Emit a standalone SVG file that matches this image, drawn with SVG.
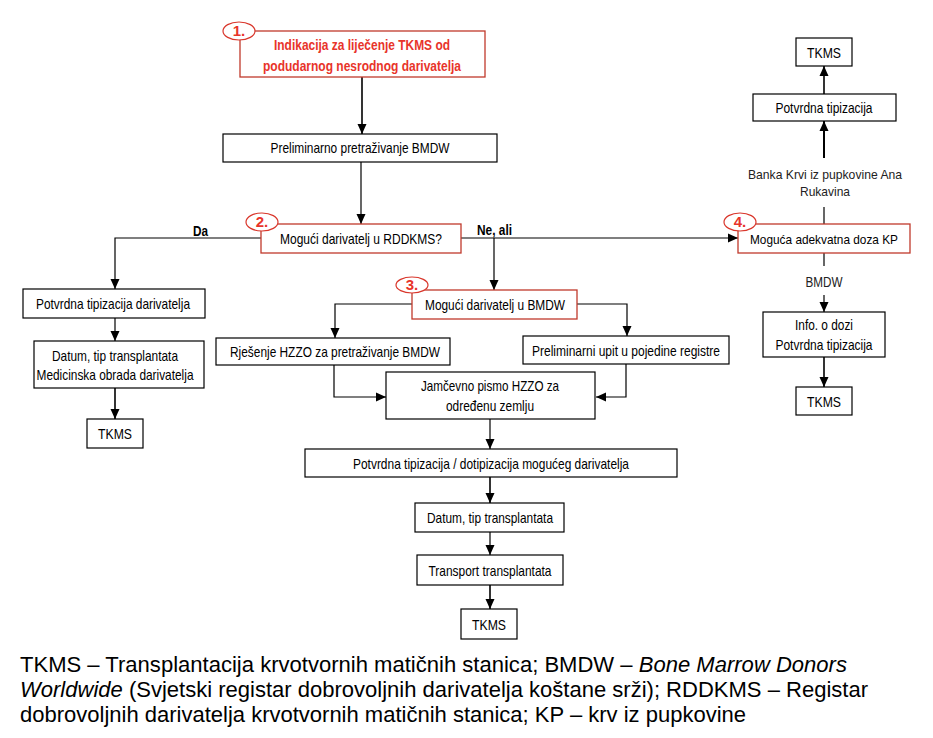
<svg xmlns="http://www.w3.org/2000/svg" width="933" height="738" viewBox="0 0 933 738">
<style>
.b{fill:#fff;stroke:#000;stroke-width:1.2}
.r{fill:#fff;stroke:#c0392b;stroke-width:1.3}
.e{fill:#fff;stroke:#d9362b;stroke-width:1.2}
.t{font-family:"Liberation Sans",Arial,sans-serif;font-size:15px;fill:#000;text-anchor:middle}
.rt{font-family:"Liberation Sans",Arial,sans-serif;font-size:15px;font-weight:bold;fill:#e8342a;text-anchor:middle}
.lb{font-family:"Liberation Sans",Arial,sans-serif;font-size:15px;font-weight:bold;fill:#000}
.g{font-family:"Liberation Sans",Arial,sans-serif;font-size:15px;fill:#222;text-anchor:middle}
.s{font-size:13.5px}
.c{fill:none;stroke:#000;stroke-width:1.2}
.cap{font-family:"Liberation Sans",Arial,sans-serif;font-size:22px;fill:#000}
</style>
<defs>
<marker id="a" viewBox="0 0 10 10" refX="10" refY="5" markerWidth="10" markerHeight="10" markerUnits="userSpaceOnUse" orient="auto">
<path d="M0,0.5 L10,5 L0,9.5 Z" fill="#000"/>
</marker>
</defs>
<rect width="933" height="738" fill="#fff"/>

<g id="connectors">
<path class="c" d="M362,77 V134" marker-end="url(#a)" style="stroke-width:1.6"/>
<path class="c" d="M361,162 V224" marker-end="url(#a)"/>
<path class="c" d="M261,238 H115 V289" marker-end="url(#a)"/>
<path class="c" d="M115,318 V341" marker-end="url(#a)"/>
<path class="c" d="M115,388 V419" marker-end="url(#a)" style="stroke-width:1.6"/>
<path class="c" d="M461,238 H738" marker-end="url(#a)"/>
<path class="c" d="M494,238 V290" marker-end="url(#a)"/>
<path class="c" d="M412,304 H335 V338" marker-end="url(#a)"/>
<path class="c" d="M577,304 H627 V336" marker-end="url(#a)"/>
<path class="c" d="M334,365 V397 H386" marker-end="url(#a)"/>
<path class="c" d="M626,364 V397 H596" marker-end="url(#a)"/>
<path class="c" d="M490,419 V449" marker-end="url(#a)"/>
<path class="c" d="M490,477 V503" marker-end="url(#a)" style="stroke-width:1.6"/>
<path class="c" d="M490,532 V555" marker-end="url(#a)"/>
<path class="c" d="M490,585 V609" marker-end="url(#a)" style="stroke-width:1.6"/>
<path class="c" d="M824,224 V207"/>
<path class="c" d="M824,158 V121" marker-end="url(#a)" style="stroke-width:2"/>
<path class="c" d="M824,94 V66" marker-end="url(#a)" style="stroke-width:1.6"/>
<path class="c" d="M824,253 V266"/>
<path class="c" d="M824,295 V312" marker-end="url(#a)"/>
<path class="c" d="M824,357 V387" marker-end="url(#a)" style="stroke-width:1.6"/>
</g>

<g id="n1">
<rect class="r" x="240" y="31" width="245" height="46"/>
<ellipse class="e" cx="239" cy="31" rx="16" ry="9"/>
<text class="rt" x="239" y="36">1.</text>
<text class="rt" x="362" y="50" textLength="176" lengthAdjust="spacingAndGlyphs">Indikacija za liječenje TKMS od</text>
<text class="rt" x="362" y="71" textLength="198" lengthAdjust="spacingAndGlyphs">podudarnog nesrodnog darivatelja</text>
</g>
<g id="n-prelim">
<rect class="b" x="223" y="134" width="274" height="28"/>
<text class="t" x="360" y="153" textLength="179" lengthAdjust="spacingAndGlyphs">Preliminarno pretraživanje BMDW</text>
</g>
<g id="n2">
<rect class="r" x="261" y="224" width="200" height="29"/>
<ellipse class="e" cx="262" cy="222" rx="16" ry="9"/>
<text class="rt" x="262" y="227">2.</text>
<text class="t" x="361" y="244" textLength="162" lengthAdjust="spacingAndGlyphs">Mogući darivatelj u RDDKMS?</text>
</g>
<text class="lb" x="193" y="236" textLength="15" lengthAdjust="spacingAndGlyphs">Da</text>
<text class="lb" x="477" y="235" textLength="35" lengthAdjust="spacingAndGlyphs">Ne, ali</text>
<g id="n-potv-dar">
<rect class="b" x="23" y="289" width="182" height="29"/>
<text class="t" x="113" y="309" textLength="154" lengthAdjust="spacingAndGlyphs">Potvrdna tipizacija darivatelja</text>
</g>
<g id="n-datum-med">
<rect class="b" x="34" y="341" width="170" height="47"/>
<text class="t" x="115" y="361" textLength="126" lengthAdjust="spacingAndGlyphs">Datum, tip transplantata</text>
<text class="t" x="115" y="380" textLength="157" lengthAdjust="spacingAndGlyphs">Medicinska obrada darivatelja</text>
</g>
<g id="n-tkms-left">
<rect class="b" x="87" y="419" width="56" height="29"/>
<text class="t" x="115" y="439" textLength="34" lengthAdjust="spacingAndGlyphs">TKMS</text>
</g>
<g id="n3">
<rect class="r" x="412" y="290" width="165" height="29"/>
<ellipse class="e" cx="412" cy="285" rx="16" ry="8"/>
<text class="rt" x="412" y="290">3.</text>
<text class="t" x="495" y="310" textLength="140" lengthAdjust="spacingAndGlyphs">Mogući darivatelj u BMDW</text>
</g>
<g id="n-rjesenje">
<rect class="b" x="216" y="338" width="234" height="27"/>
<text class="t" x="335" y="357" textLength="210" lengthAdjust="spacingAndGlyphs">Rješenje HZZO za pretraživanje BMDW</text>
</g>
<g id="n-prelupit">
<rect class="b" x="523" y="336" width="206" height="28"/>
<text class="t" x="626" y="356" textLength="188" lengthAdjust="spacingAndGlyphs">Preliminarni upit u pojedine registre</text>
</g>
<g id="n-jamcevno">
<rect class="b" x="386" y="372" width="209" height="47"/>
<text class="t" x="490" y="391" textLength="138" lengthAdjust="spacingAndGlyphs">Jamčevno pismo HZZO za</text>
<text class="t" x="490" y="411" textLength="88" lengthAdjust="spacingAndGlyphs">određenu zemlju</text>
</g>
<g id="n-potv-dotip">
<rect class="b" x="305" y="449" width="372" height="28"/>
<text class="t" x="491" y="469" textLength="276" lengthAdjust="spacingAndGlyphs">Potvrdna tipizacija / dotipizacija mogućeg darivatelja</text>
</g>
<g id="n-datum">
<rect class="b" x="415" y="503" width="149" height="29"/>
<text class="t" x="490" y="523" textLength="126" lengthAdjust="spacingAndGlyphs">Datum, tip transplantata</text>
</g>
<g id="n-transport">
<rect class="b" x="417" y="555" width="146" height="30"/>
<text class="t" x="490" y="576" textLength="123" lengthAdjust="spacingAndGlyphs">Transport transplantata</text>
</g>
<g id="n-tkms-bottom">
<rect class="b" x="461" y="609" width="56" height="30"/>
<text class="t" x="489" y="630" textLength="34" lengthAdjust="spacingAndGlyphs">TKMS</text>
</g>
<g id="n4">
<rect class="r" x="738" y="224" width="172" height="29"/>
<ellipse class="e" cx="740" cy="222" rx="16" ry="9"/>
<text class="rt" x="740" y="227">4.</text>
<text class="t s" x="824" y="243.5" textLength="148" lengthAdjust="spacingAndGlyphs">Moguća adekvatna doza KP</text>
</g>
<g id="lbl-banka">
<text class="g s" x="825" y="179" textLength="154" lengthAdjust="spacingAndGlyphs">Banka Krvi iz pupkovine Ana</text>
<text class="g s" x="825" y="196" textLength="50" lengthAdjust="spacingAndGlyphs">Rukavina</text>
</g>
<g id="n-potv-right">
<rect class="b" x="753" y="94" width="143" height="27"/>
<text class="t" x="824" y="113" textLength="97" lengthAdjust="spacingAndGlyphs">Potvrdna tipizacija</text>
</g>
<g id="n-tkms-top">
<rect class="b" x="796" y="38" width="56" height="28"/>
<text class="t" x="824" y="58" textLength="34" lengthAdjust="spacingAndGlyphs">TKMS</text>
</g>
<g id="lbl-bmdw">
<text class="g" x="824" y="287" textLength="37" lengthAdjust="spacingAndGlyphs">BMDW</text>
</g>
<g id="n-info">
<rect class="b" x="763" y="312" width="122" height="45"/>
<text class="t" x="824" y="330" textLength="58" lengthAdjust="spacingAndGlyphs">Info. o dozi</text>
<text class="t" x="824" y="350" textLength="97" lengthAdjust="spacingAndGlyphs">Potvrdna tipizacija</text>
</g>
<g id="n-tkms-br">
<rect class="b" x="796" y="387" width="56" height="28"/>
<text class="t" x="824" y="407" textLength="34" lengthAdjust="spacingAndGlyphs">TKMS</text>
</g>

<g id="caption">
<text class="cap" x="20" y="672" textLength="827" lengthAdjust="spacingAndGlyphs">TKMS – Transplantacija krvotvornih matičnih stanica; BMDW – <tspan font-style="italic">Bone Marrow Donors</tspan></text>
<text class="cap" x="20" y="697" textLength="848" lengthAdjust="spacingAndGlyphs"><tspan font-style="italic">Worldwide</tspan> (Svjetski registar dobrovoljnih darivatelja koštane srži); RDDKMS – Registar</text>
<text class="cap" x="20" y="722" textLength="726" lengthAdjust="spacingAndGlyphs">dobrovoljnih darivatelja krvotvornih matičnih stanica; KP – krv iz pupkovine</text>
</g>
</svg>
